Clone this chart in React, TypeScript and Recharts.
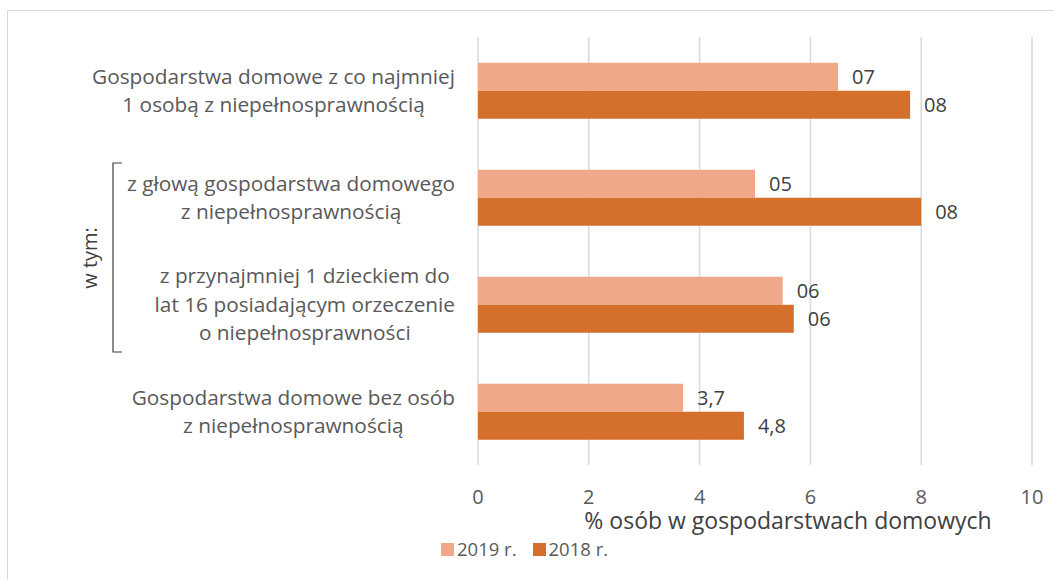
import React from 'react';
import { BarChart, Bar, XAxis, YAxis, CartesianGrid, LabelList, Label } from 'recharts';

const categories: string[][] = [
  ['Gospodarstwa domowe z co najmniej', '1 osobą z niepełnosprawnością'],
  ['z głową gospodarstwa domowego', 'z niepełnosprawnością'],
  ['z przynajmniej 1 dzieckiem do', 'lat 16 posiadającym orzeczenie', 'o niepełnosprawności'],
  ['Gospodarstwa domowe bez osób', 'z niepełnosprawnością'],
];
const values2019 = [6.5, 5.0, 5.5, 3.7];
const values2018 = [7.8, 8.0, 5.7, 4.8];
const labels2019 = ['07', '05', '06', '3,7'];
const labels2018 = ['08', '08', '06', '4,8'];
const xTicks = [0, 2, 4, 6, 8, 10];
const seriesNames = ['2019 r.', '2018 r.'];
const colors = ['#F1A88A', '#D46F2C'];

const FONT = '"Open Sans", "Noto Sans", sans-serif';
const TEXT = '#595959';

const data = categories.map((c, i) => ({
  name: String(i),
  v2019: values2019[i],
  v2018: values2018[i],
  l2019: labels2019[i],
  l2018: labels2018[i],
}));

let ctx: CanvasRenderingContext2D | null = null;
function measure(t: string, size: number): number {
  if (!ctx) ctx = document.createElement('canvas').getContext('2d');
  if (!ctx) return t.length * size * 0.55;
  ctx.font = `${size}px ${FONT}`;
  return ctx.measureText(t).width;
}

const CatTick = (props: any) => {
  const { x, y, payload } = props;
  const lines = categories[Number(payload.value)] || [];
  const size = 20.8;
  const lh = 28.5;
  const w = Math.max(...lines.map((l) => measure(l, size)));
  const right = x - 15;
  const cx = right - w / 2;
  const startY = y - ((lines.length - 1) * lh) / 2;
  return (
    <g>
      {lines.map((l, i) => (
        <text key={i} x={cx} y={startY + i * lh} dy="0.35em" textAnchor="middle" fontSize={size} fill={TEXT} fontFamily={FONT}>
          {l}
        </text>
      ))}
    </g>
  );
};

export default function App() {
  return (
    <div style={{ position: 'absolute', left: 0, top: 0, width: 1054, height: 580, overflow: 'hidden', background: '#fff' }}>
      <div style={{ position: 'absolute', left: 7, top: 10, width: 1200, height: 700, border: '1.5px solid #D9D9D9' }} />
      <div style={{ position: 'absolute', left: 0, top: 0 }}>
        <BarChart
          width={1054}
          height={580}
          data={data}
          layout="vertical"
          margin={{ top: 37, right: 22, bottom: 85, left: 0 }}
          barCategoryGap="24%"
          barGap={0}
        >
          <CartesianGrid horizontal={false} stroke="#D9D9D9" strokeWidth={1.5} />
          <XAxis
            type="number"
            domain={[0, 10]}
            ticks={xTicks}
            axisLine={false}
            tickLine={false}
            tick={{ fontSize: 20, fill: TEXT, fontFamily: FONT }}
            tickMargin={19}
            height={30}
          >
            <Label
              value="% osób w gospodarstwach domowych"
              position="bottom"
              offset={0}
              dx={33}
              dy={18}
              style={{ fontSize: 23, fill: '#404040', fontFamily: FONT }}
            />
          </XAxis>
          <YAxis type="category" dataKey="name" width={478} axisLine={false} tickLine={false} tick={<CatTick />} />
          <Bar dataKey="v2019" name={seriesNames[0]} fill={colors[0]} isAnimationActive={false}>
            <LabelList dataKey="l2019" position="right" offset={14} style={{ fontSize: 20, fill: '#404040', fontFamily: FONT }} />
          </Bar>
          <Bar dataKey="v2018" name={seriesNames[1]} fill={colors[1]} isAnimationActive={false}>
            <LabelList dataKey="l2018" position="right" offset={14} style={{ fontSize: 20, fill: '#404040', fontFamily: FONT }} />
          </Bar>
        </BarChart>
      </div>
      <div style={{ position: 'absolute', left: 441, top: 537, display: 'flex', alignItems: 'center', fontFamily: FONT, fontSize: 18.5, color: TEXT, lineHeight: '24px' }}>
        {seriesNames.map((n, i) => (
          <div key={n} style={{ display: 'flex', alignItems: 'center', marginRight: 16 }}>
            <div style={{ width: 13, height: 13, background: colors[i], marginRight: 3 }} />
            <span>{n}</span>
          </div>
        ))}
      </div>
      <svg style={{ position: 'absolute', left: 0, top: 0 }} width={1054} height={580}>
        <path d="M122 163 H113 V352 H122" fill="none" stroke="#404040" strokeWidth={1.2} />
        <text x={90} y={258} transform="rotate(-90 90 258)" textAnchor="middle" dy="0.35em" fontSize={20} fill="#404040" fontFamily={FONT}>
          w tym:
        </text>
      </svg>
    </div>
  );
}
